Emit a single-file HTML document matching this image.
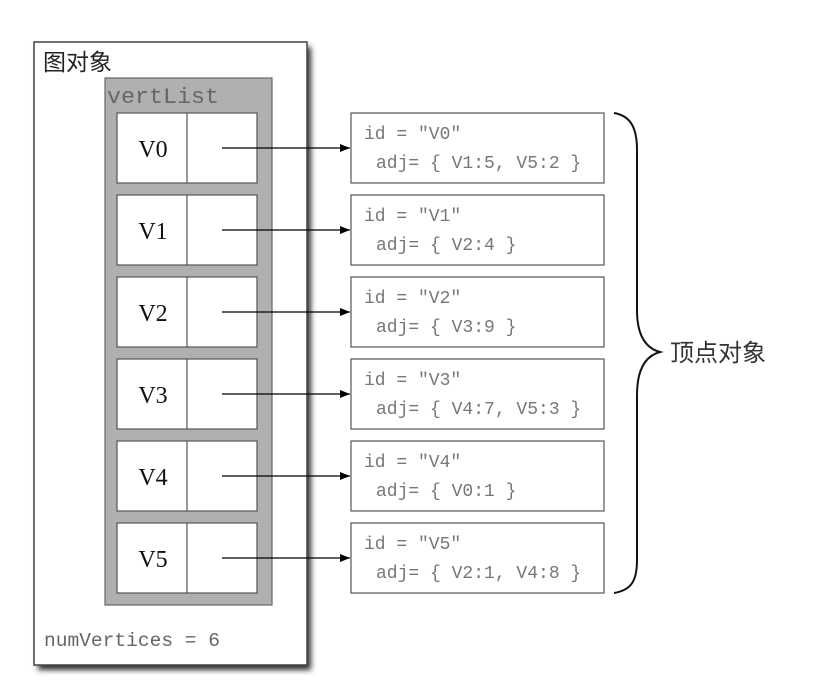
<!DOCTYPE html>
<html><head><meta charset="utf-8"><style>body{margin:0;background:#fff}svg{display:block}</style></head>
<body>
<svg width="832" height="700" viewBox="0 0 832 700" xmlns="http://www.w3.org/2000/svg">
<defs>
<filter id="sh" x="-10%" y="-10%" width="130%" height="130%"><feGaussianBlur stdDeviation="3"/></filter>
<marker id="ah" markerWidth="10" markerHeight="8" refX="10" refY="4" orient="auto" markerUnits="userSpaceOnUse"><path d="M0,0 L10,4 L0,8 z" fill="#000"/></marker>
</defs>
<rect x="38" y="47" width="273" height="623" fill="#333" filter="url(#sh)"/>
<rect x="34" y="42" width="273" height="623" fill="#fff" stroke="#444" stroke-width="1.5"/>
<text x="43" y="70" font-family="'Noto Sans CJK SC',sans-serif" font-size="23" fill="#222">图对象</text>
<rect x="105" y="78" width="167" height="527" fill="#b0b0b0" stroke="#666" stroke-width="1.2"/>
<text x="107" y="103" font-family="'Liberation Mono',monospace" font-size="22" fill="#666" textLength="112" lengthAdjust="spacingAndGlyphs">vertList</text>
<text x="44" y="646" font-family="'Liberation Mono',monospace" font-size="19.5" fill="#666" textLength="176" lengthAdjust="spacingAndGlyphs">numVertices = 6</text>
<g stroke="#555" stroke-width="1.2" fill="#fff">
<rect x="117" y="113" width="140" height="70"/><line x1="187" y1="113" x2="187" y2="183"/>
<rect x="117" y="195" width="140" height="70"/><line x1="187" y1="195" x2="187" y2="265"/>
<rect x="117" y="277" width="140" height="70"/><line x1="187" y1="277" x2="187" y2="347"/>
<rect x="117" y="359" width="140" height="70"/><line x1="187" y1="359" x2="187" y2="429"/>
<rect x="117" y="441" width="140" height="70"/><line x1="187" y1="441" x2="187" y2="511"/>
<rect x="117" y="523" width="140" height="70"/><line x1="187" y1="523" x2="187" y2="593"/>
<rect x="351" y="113" width="253" height="70"/>
<rect x="351" y="195" width="253" height="70"/>
<rect x="351" y="277" width="253" height="70"/>
<rect x="351" y="359" width="253" height="70"/>
<rect x="351" y="441" width="253" height="70"/>
<rect x="351" y="523" width="253" height="70"/>
</g>
<g font-family="'Liberation Serif',serif" font-size="24" fill="#111" text-anchor="middle">
<text x="153" y="157">V0</text><text x="153" y="239">V1</text><text x="153" y="321">V2</text>
<text x="153" y="403">V3</text><text x="153" y="485">V4</text><text x="153" y="567">V5</text>
</g>
<g stroke="#000" stroke-width="1.3" marker-end="url(#ah)">
<line x1="222" y1="148" x2="350" y2="148"/><line x1="222" y1="230" x2="350" y2="230"/>
<line x1="222" y1="312" x2="350" y2="312"/><line x1="222" y1="394" x2="350" y2="394"/>
<line x1="222" y1="476" x2="350" y2="476"/><line x1="222" y1="558" x2="350" y2="558"/>
</g>
<g font-family="'Liberation Mono',monospace" font-size="18" fill="#777" xml:space="preserve">
<text x="364" y="139">id = "V0"</text><text x="376" y="168">adj= { V1:5, V5:2 }</text>
<text x="364" y="221">id = "V1"</text><text x="376" y="250">adj= { V2:4 }</text>
<text x="364" y="303">id = "V2"</text><text x="376" y="332">adj= { V3:9 }</text>
<text x="364" y="385">id = "V3"</text><text x="376" y="414">adj= { V4:7, V5:3 }</text>
<text x="364" y="467">id = "V4"</text><text x="376" y="496">adj= { V0:1 }</text>
<text x="364" y="549">id = "V5"</text><text x="376" y="578">adj= { V2:1, V4:8 }</text>
</g>
<path d="M614,113 C632,116 637,130 637,150 L637,310 C637,335 645,348 660,352 C645,356 637,370 637,395 L637,560 C637,580 632,590 614,593" fill="none" stroke="#111" stroke-width="2"/>
<text x="670" y="361" font-family="'Noto Sans CJK SC',sans-serif" font-size="24" fill="#333">顶点对象</text>
</svg>
</body></html>
